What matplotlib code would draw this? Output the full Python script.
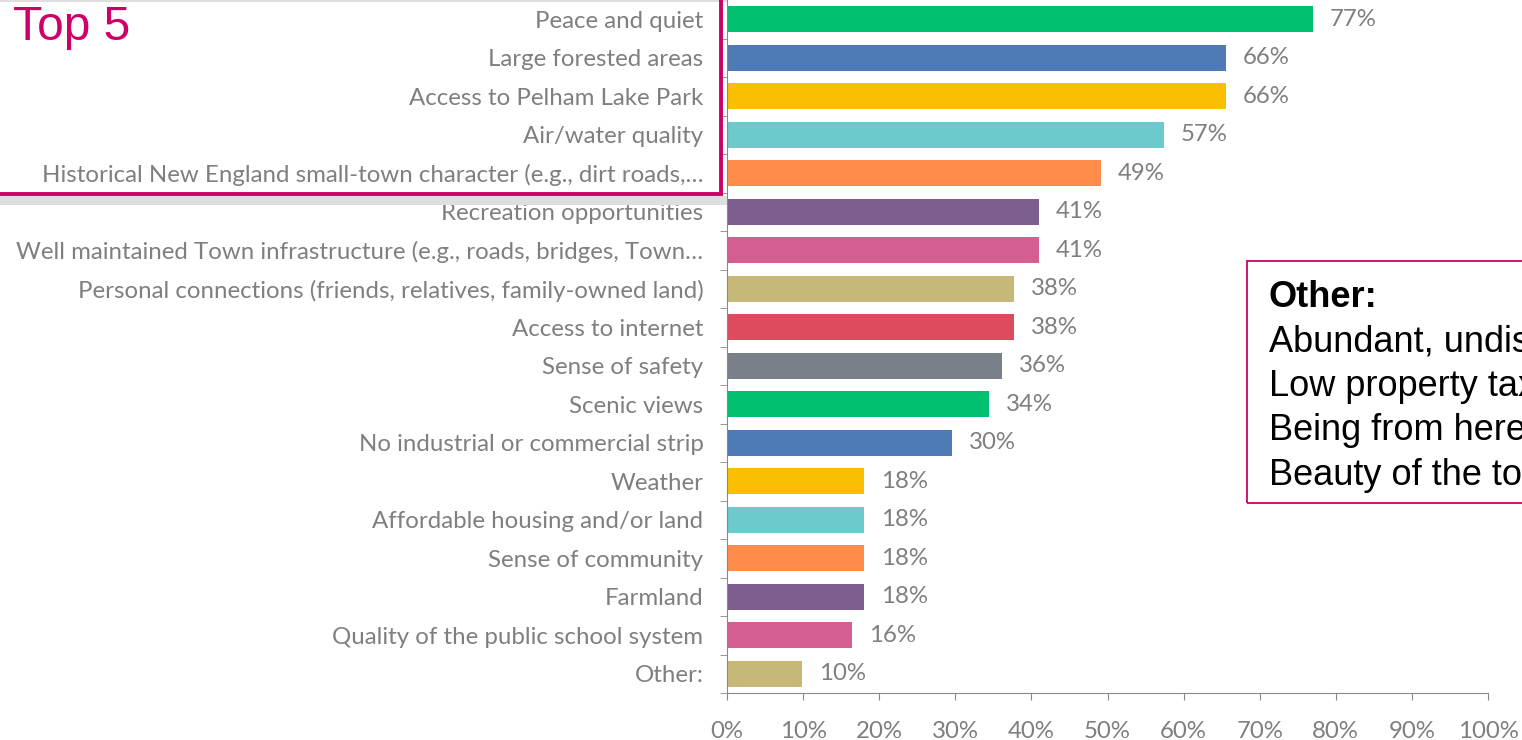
import matplotlib
matplotlib.use('Agg')
import matplotlib.pyplot as plt
from matplotlib.patches import Rectangle
from matplotlib.ticker import PercentFormatter

categories = ['Peace and quiet',
              'Large forested areas',
              'Access to Pelham Lake Park',
              'Air/water quality',
              'Historical New England small-town character (e.g., dirt roads,…',
              'Recreation opportunities',
              'Well maintained Town infrastructure (e.g., roads, bridges, Town…',
              'Personal connections (friends, relatives, family-owned land)',
              'Access to internet',
              'Sense of safety',
              'Scenic views',
              'No industrial or commercial strip',
              'Weather',
              'Affordable housing and/or land',
              'Sense of community',
              'Farmland',
              'Quality of the public school system',
              'Other:']
values = [77.0, 65.6, 65.6, 57.4, 49.2, 41.0, 41.0, 37.7, 37.7, 36.1,
          34.4, 29.6, 18.0, 18.0, 18.0, 18.0, 16.4, 9.9]
value_labels = ['77%', '66%', '66%', '57%', '49%', '41%', '41%', '38%', '38%',
                '36%', '34%', '30%', '18%', '18%', '18%', '18%', '16%', '10%']
palette = ['#00BF6F', '#4E7AB5', '#F9BF00', '#6CC9CC', '#FF8C4B', '#7E5E8F',
           '#D45E8F', '#C8B878', '#DD4B5E', '#7A8088']
other_lines = ['Abundant, undisturbed wildlife',
               'Low property taxes',
               'Being from here',
               'Beauty of the town']

W, H = 1522, 740
gray = '#7F7F7F'
pink = '#CC0066'
plt.rcParams['font.family'] = ['Lato', 'DejaVu Sans']

fig = plt.figure(figsize=(W / 100, H / 100), dpi=100)
ax = fig.add_axes([727 / W, 1 - 693 / H, 761 / W, 693 / H])

colors = [palette[i % len(palette)] for i in range(len(values))]
ypos = list(range(len(values)))
ax.barh(ypos, values, height=0.68, color=colors)
for y, v, lab in zip(ypos, values, value_labels):
    ax.text(v + 2.2, y, lab, va='center', ha='left', fontsize=17.3, color=gray)

ax.set_xlim(0, 100)
ax.set_ylim(len(values) - 0.5, -0.5)
ax.set_yticks(ypos)
ax.set_yticklabels(categories, fontsize=17.3, color=gray)
ax.set_yticks([i - 0.5 for i in range(len(values) + 1)], minor=True)
ax.tick_params(axis='y', which='major', length=0, pad=17)
ax.tick_params(axis='y', which='minor', length=5, color='#888888')
ax.set_xticks(range(0, 101, 10))
ax.xaxis.set_major_formatter(PercentFormatter(decimals=0))
ax.tick_params(axis='x', length=5, color='#888888', labelsize=17.3,
               labelcolor=gray, pad=15)
for s in ['top', 'right']:
    ax.spines[s].set_visible(False)
for s in ['left', 'bottom']:
    ax.spines[s].set_color('#888888')

# Top 5 box with its light shadow
fig.patches.append(Rectangle((0, 1 - 205 / H), 727 / W, 9 / H,
                             transform=fig.transFigure, facecolor='#DEDEDE',
                             edgecolor='none', zorder=4))
fig.patches.append(Rectangle((0, 1 - 2 / H), 727 / W, 2 / H,
                             transform=fig.transFigure, facecolor='#DEDEDE',
                             edgecolor='none', zorder=4))
fig.patches.append(Rectangle((-0.01, 1 - 194 / H), 736 / W, 0.3,
                             transform=fig.transFigure, fill=False,
                             edgecolor=pink, lw=2.8, zorder=5))
fig.text(13 / W, 1 - 40 / H, 'Top 5', fontsize=34.5, color=pink,
         family='Liberation Sans', va='baseline', ha='left')

# Other box
fig.patches.append(Rectangle((1247 / W, 1 - 503 / H), 0.2, 242 / H,
                             transform=fig.transFigure, fill=False,
                             edgecolor=pink, lw=1.3))
fig.text(1269 / W, 1 - 307 / H, 'Other:', fontsize=26, weight='bold',
         family='Liberation Sans', va='baseline', ha='left')
for i, line in enumerate(other_lines):
    fig.text(1269 / W, 1 - (351.5 + 44.5 * i) / H, line, fontsize=26,
             family='Liberation Sans', va='baseline', ha='left')

fig.savefig('out.png', dpi=100)
